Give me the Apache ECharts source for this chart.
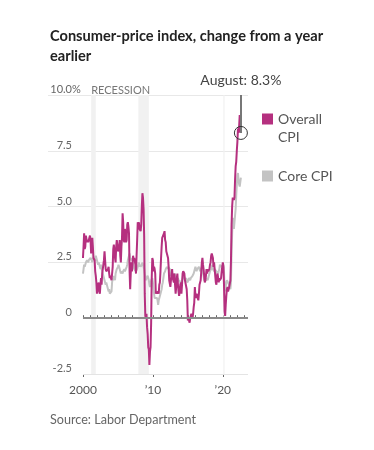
<!DOCTYPE html>
<html><head><meta charset="utf-8">
<script src="https://cdn.jsdelivr.net/npm/echarts@6/dist/echarts.min.js"></script>
<style>html,body{margin:0;padding:0;background:#fff}#c{width:374px;height:450px}</style>
</head><body><div id="c"></div>
<script>
// Monthly year-over-year change, Jan 2000 .. Aug 2022
const startYear = 2000;
const overallCPI = [
  2.7, 3.2, 3.8, 3.1, 3.2, 3.7, 3.7, 3.4, 3.5, 3.4, 3.4, 3.4,
  3.7, 3.5, 2.9, 3.3, 3.6, 3.2, 2.7, 2.7, 2.6, 2.1, 1.9, 1.6,
  1.1, 1.1, 1.5, 1.6, 1.2, 1.1, 1.5, 1.8, 1.5, 2.0, 2.2, 2.4,
  2.6, 3.0, 3.0, 2.2, 2.1, 2.1, 2.1, 2.2, 2.3, 2.0, 1.8, 1.9,
  1.9, 1.7, 1.7, 2.3, 3.1, 3.3, 3.0, 2.7, 2.5, 3.2, 3.5, 3.3,
  3.0, 3.0, 3.1, 3.5, 2.8, 2.5, 3.2, 3.6, 4.7, 4.3, 3.5, 3.4,
  4.0, 3.6, 3.4, 3.5, 4.2, 4.3, 4.1, 3.8, 2.1, 1.3, 2.0, 2.5,
  2.1, 2.4, 2.8, 2.6, 2.7, 2.7, 2.4, 2.0, 2.8, 3.5, 4.3, 4.1,
  4.3, 4.0, 4.0, 3.9, 4.2, 5.0, 5.6, 5.4, 4.9, 3.7, 1.1, 0.1,
  0.0, 0.2, -0.4, -0.7, -1.3, -1.4, -2.1, -1.5, -1.3, -0.2, 1.8, 2.7,
  2.6, 2.1, 2.3, 2.2, 2.0, 1.1, 1.2, 1.1, 1.1, 1.2, 1.1, 1.5,
  1.6, 2.1, 2.7, 3.2, 3.6, 3.6, 3.6, 3.8, 3.9, 3.5, 3.4, 3.0,
  2.9, 2.9, 2.7, 2.3, 1.7, 1.7, 1.4, 1.7, 2.0, 2.2, 1.8, 1.7,
  1.6, 2.0, 1.5, 1.1, 1.4, 1.8, 2.0, 1.5, 1.2, 1.0, 1.2, 1.5,
  1.6, 1.1, 1.5, 2.0, 2.1, 2.1, 2.0, 1.7, 1.7, 1.7, 1.3, 0.8,
  -0.1, 0.0, -0.1, -0.2, 0.0, 0.1, 0.2, 0.2, 0.0, 0.2, 0.5, 0.7,
  1.4, 1.0, 0.9, 1.1, 1.0, 1.0, 0.8, 1.1, 1.5, 1.6, 1.7, 2.1,
  2.5, 2.7, 2.4, 2.2, 1.9, 1.6, 1.7, 1.9, 2.2, 2.0, 2.2, 2.1,
  2.1, 2.2, 2.4, 2.5, 2.8, 2.9, 2.9, 2.7, 2.3, 2.5, 2.2, 1.9,
  1.6, 1.5, 1.9, 2.0, 1.8, 1.6, 1.8, 1.7, 1.7, 1.8, 2.1, 2.3,
  2.5, 2.3, 1.5, 0.3, 0.1, 0.6, 1.0, 1.3, 1.4, 1.2, 1.2, 1.4,
  1.4, 1.7, 2.6, 4.2, 5.0, 5.4, 5.4, 5.3, 5.4, 6.2, 6.8, 7.0,
  7.5, 7.9, 8.5, 8.3, 8.6, 9.1, 8.5, 8.3
];
const coreCPI = [
  2.0, 2.2, 2.4, 2.3, 2.4, 2.5, 2.5, 2.6, 2.6, 2.5, 2.6, 2.6,
  2.6, 2.7, 2.7, 2.6, 2.5, 2.7, 2.7, 2.7, 2.6, 2.6, 2.8, 2.7,
  2.6, 2.6, 2.4, 2.5, 2.5, 2.3, 2.2, 2.4, 2.2, 2.2, 2.0, 1.9,
  1.9, 1.7, 1.7, 1.5, 1.6, 1.5, 1.5, 1.3, 1.2, 1.3, 1.1, 1.1,
  1.1, 1.2, 1.6, 1.8, 1.7, 1.9, 1.8, 1.7, 2.0, 2.0, 2.2, 2.2,
  2.3, 2.4, 2.3, 2.2, 2.2, 2.0, 2.1, 2.1, 2.0, 2.1, 2.1, 2.2,
  2.1, 2.1, 2.1, 2.3, 2.4, 2.6, 2.7, 2.8, 2.9, 2.7, 2.6, 2.6,
  2.7, 2.7, 2.5, 2.3, 2.2, 2.2, 2.2, 2.1, 2.1, 2.2, 2.3, 2.4,
  2.5, 2.3, 2.4, 2.3, 2.3, 2.4, 2.5, 2.5, 2.5, 2.2, 2.0, 1.8,
  1.7, 1.8, 1.8, 1.9, 1.8, 1.7, 1.5, 1.4, 1.5, 1.7, 1.7, 1.8,
  1.6, 1.3, 1.1, 0.9, 0.9, 0.9, 0.9, 0.9, 0.8, 0.6, 0.8, 0.8,
  1.0, 1.1, 1.2, 1.3, 1.5, 1.6, 1.8, 2.0, 2.0, 2.1, 2.2, 2.2,
  2.3, 2.2, 2.3, 2.3, 2.3, 2.2, 2.1, 1.9, 2.0, 2.0, 1.9, 1.9,
  1.9, 2.0, 1.9, 1.7, 1.7, 1.6, 1.7, 1.8, 1.7, 1.7, 1.7, 1.7,
  1.6, 1.6, 1.7, 1.8, 2.0, 1.9, 1.9, 1.7, 1.7, 1.8, 1.7, 1.6,
  1.6, 1.7, 1.8, 1.8, 1.7, 1.8, 1.8, 1.8, 1.9, 1.9, 2.0, 2.1,
  2.2, 2.3, 2.2, 2.1, 2.2, 2.2, 2.2, 2.3, 2.2, 2.1, 2.1, 2.2,
  2.3, 2.2, 2.0, 1.9, 1.7, 1.7, 1.7, 1.7, 1.7, 1.8, 1.7, 1.8,
  1.8, 1.8, 2.1, 2.1, 2.2, 2.3, 2.4, 2.2, 2.2, 2.1, 2.2, 2.2,
  2.2, 2.1, 2.0, 2.1, 2.0, 2.1, 2.2, 2.4, 2.4, 2.3, 2.3, 2.3,
  2.3, 2.4, 2.1, 1.4, 1.2, 1.2, 1.6, 1.7, 1.7, 1.6, 1.6, 1.6,
  1.4, 1.3, 1.6, 3.0, 3.8, 4.5, 4.3, 4.0, 4.0, 4.6, 4.9, 5.5,
  6.0, 6.4, 6.5, 6.2, 6.0, 5.9, 5.9, 6.3
];
const yTicks = [-2.5, 0, 2.5, 5, 7.5, 10];
const xLabelYears = [2000, 2010, 2020];
const tickYears = [2000, 2001, 2002, 2003, 2004, 2005, 2006, 2007, 2008, 2009, 2010, 2011,
                   2012, 2013, 2014, 2015, 2016, 2017, 2018, 2019, 2020, 2021, 2022, 2023];
const recessions = [[2001.17, 2001.83], [2007.92, 2009.42], [2020.08, 2020.25]];
const latestLabel = 'August';
const latestValue = 8.3;

const FONT = 'Lato, "Open Sans", sans-serif';
const PURPLE = '#b5307f';
const GREY = '#c3c3c3';
const toXY = arr => arr.map((v, i) => [startYear + i / 12, v]);
const latestX = startYear + (overallCPI.length - 1) / 12;
const X_MIN = 1995, X_MAX = 2023.6;

const chart = echarts.init(document.getElementById('c'), null, {renderer: 'canvas'});
chart.setOption({
  animation: false,
  backgroundColor: '#fff',
  textStyle: {fontFamily: FONT},
  title: [
    {text: 'Consumer-price index, change from a year\nearlier', left: 50, top: 26, padding: 0,
     textStyle: {fontFamily: FONT, fontSize: 14.6, fontWeight: 'bold', color: '#222', lineHeight: 20}},
    {text: 'Source: Labor Department', left: 50, top: 413, padding: 0,
     textStyle: {fontFamily: FONT, fontSize: 12.6, fontWeight: 'normal', color: '#666'}}
  ],
  legend: [
    {data: ['Overall CPI'], orient: 'vertical', left: 257, top: 89, selectedMode: false,
     itemWidth: 11, itemHeight: 11, icon: 'rect',
     formatter: n => '{s| }\n{a|' + n.split(' ')[0] + '}\n{a|' + n.split(' ')[1] + '}',
     textStyle: {fontFamily: FONT, fontSize: 14, color: '#555',
       rich: {s: {lineHeight: 18, fontSize: 14}, a: {lineHeight: 18, fontSize: 14, color: '#555', fontFamily: FONT}}}},
    {data: ['Core CPI'], orient: 'vertical', left: 257, top: 162, selectedMode: false,
     itemWidth: 11, itemHeight: 11, icon: 'rect',
     textStyle: {fontFamily: FONT, fontSize: 14, color: '#555', lineHeight: 18}}
  ],
  grid: {left: 48, right: 126, top: 95, bottom: 76, containLabel: false},
  xAxis: [
    {type: 'value', min: X_MIN, max: X_MAX,
     axisLine: {show: false}, splitLine: {show: false},
     axisTick: {show: true, inside: true, length: 3, customValues: tickYears, lineStyle: {color: '#666', width: 1}},
     axisLabel: {customValues: xLabelYears, margin: 10, color: '#555', fontSize: 12, fontFamily: FONT,
       formatter: v => v === 2000 ? '2000' : '\u2019' + String(v).slice(2)}},
    {type: 'value', min: X_MIN, max: X_MAX, position: 'bottom',
     axisLine: {show: false}, splitLine: {show: false}, axisLabel: {show: false},
     axisTick: {show: true, inside: false, length: 3, customValues: xLabelYears, lineStyle: {color: '#666', width: 1}}}
  ],
  yAxis: {
    type: 'value', min: -2.5, max: 10, interval: 2.5,
    axisLine: {show: false}, axisTick: {show: false},
    splitLine: {show: true, lineStyle: {color: ['transparent', 'transparent', '#e8e8e8', '#e8e8e8', '#e8e8e8', '#e8e8e8'], width: 1}},
    axisLabel: {inside: true, align: 'right', margin: 24, verticalAlign: 'bottom', color: '#666', fontSize: 11, fontFamily: FONT,
      formatter: v => v === 10 ? '{n|10.0}{p|%}' : (v === 0 ? '0' : v.toFixed(1)),
      rich: {n: {align: 'left', color: '#666', fontSize: 11, fontFamily: FONT},
             p: {width: 0, align: 'left', color: '#666', fontSize: 11, fontFamily: FONT}}}
  },
  series: [
    {name: 'Core CPI', type: 'line', xAxisIndex: 0, data: toXY(coreCPI), showSymbol: false, z: 2,
     lineStyle: {color: GREY, width: 2}, itemStyle: {color: GREY},
     markArea: {silent: true, itemStyle: {color: '#f1f1f1'},
       label: {show: true, position: [0, -10], color: '#777', fontSize: 11, fontFamily: FONT},
       data: recessions.map((r, i) => [{xAxis: r[0], name: i === 0 ? 'RECESSION' : ''}, {xAxis: r[1]}])},
     markLine: {silent: true, symbol: ['none', 'none'], label: {show: false},
       data: [
         [{coord: [2000, 0], lineStyle: {color: '#8a8a8a', width: 2, type: 'solid'}}, {coord: [X_MAX, 0]}],
         [{coord: [2000, -2.5], lineStyle: {color: '#e4e4e4', width: 1, type: 'solid'}}, {coord: [X_MAX, -2.5]}]
       ]}},
    {name: 'Overall CPI', type: 'line', xAxisIndex: 0, data: toXY(overallCPI), showSymbol: false, z: 3,
     lineStyle: {color: PURPLE, width: 2}, itemStyle: {color: PURPLE},
     markLine: {silent: true, symbol: ['none', 'none'],
       lineStyle: {color: '#777', width: 2, type: 'solid'},
       label: {show: true, position: 'start', distance: 8, formatter: latestLabel + ': ' + latestValue + '%', color: '#444', fontSize: 14, fontFamily: FONT},
       data: [[{coord: [latestX, 10]}, {coord: [latestX, latestValue]}]]},
     markPoint: {silent: true, symbol: 'circle', symbolSize: 13, label: {show: false},
       itemStyle: {color: 'rgba(0,0,0,0)', borderColor: '#333', borderWidth: 1},
       data: [{coord: [latestX, latestValue]}]}}
  ]
});
</script></body></html>
